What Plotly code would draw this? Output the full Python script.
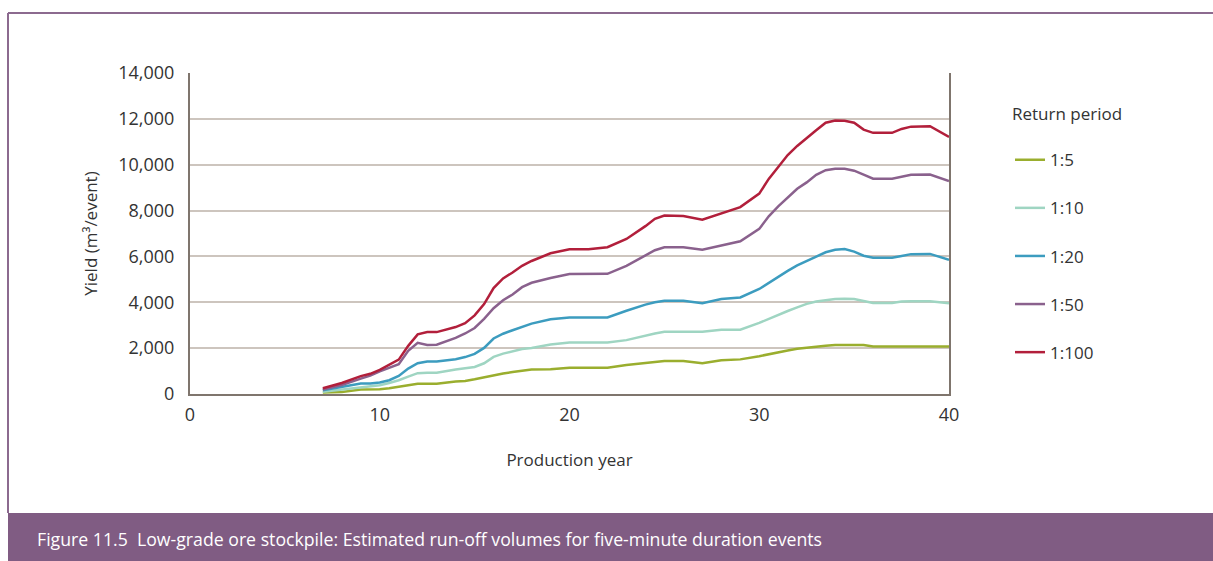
import plotly.graph_objects as go

# Production year (shared x values)
years = [7, 8, 9, 9.5, 10, 10.5, 11, 11.5, 12, 12.5, 13, 14, 14.5, 15, 15.5, 16, 16.5, 17, 17.5, 18,
         19, 20, 21, 22, 23, 24, 24.5, 25, 26, 27, 28, 29, 30, 30.5, 31, 31.5, 32, 32.5, 33, 33.5,
         34, 34.5, 35, 35.5, 36, 37, 37.5, 38, 39, 40]

# Yield (m3/event) per return period
rp_5 = [60, 90, 200, 200, 210, 250, 300, 380, 450, 450, 450, 540, 570, 640, 730, 810, 890, 960, 1010, 1070,
        1080, 1150, 1150, 1150, 1260, 1360, 1410, 1440, 1440, 1340, 1470, 1510, 1650, 1740, 1820, 1900, 1970, 2030, 2060, 2100,
        2140, 2140, 2140, 2140, 2070, 2070, 2070, 2070, 2070, 2070]
rp_10 = [100, 200, 300, 330, 380, 480, 600, 760, 910, 930, 930, 1070, 1120, 1180, 1340, 1620, 1760, 1870, 1960, 2010,
         2160, 2250, 2250, 2250, 2350, 2550, 2640, 2710, 2710, 2720, 2800, 2800, 3100, 3285, 3470, 3620, 3775, 3930, 4030, 4100,
         4140, 4150, 4140, 4060, 3970, 3970, 4030, 4040, 4040, 3960]
rp_20 = [160, 320, 460, 460, 500, 600, 790, 1110, 1340, 1420, 1420, 1520, 1610, 1750, 2010, 2420, 2630, 2780, 2930, 3070,
         3260, 3340, 3340, 3340, 3630, 3900, 4000, 4070, 4070, 3960, 4140, 4210, 4580, 4850, 5110, 5370, 5610, 5810, 6010, 6180,
         6290, 6320, 6210, 6030, 5940, 5940, 6020, 6100, 6110, 5850]
rp_50 = [200, 395, 670, 800, 990, 1140, 1300, 1880, 2230, 2140, 2150, 2450, 2640, 2880, 3280, 3740, 4090, 4340, 4660, 4850,
         5060, 5230, 5240, 5240, 5590, 6030, 6270, 6400, 6400, 6290, 6490, 6660, 7200, 7750, 8180, 8570, 8950, 9230, 9560, 9760,
         9820, 9820, 9740, 9570, 9390, 9390, 9470, 9560, 9570, 9290]
rp_100 = [250, 480, 780, 880, 1050, 1270, 1500, 2100, 2600, 2700, 2700, 2920, 3090, 3430, 3920, 4620, 5040, 5300, 5590, 5800,
          6140, 6310, 6310, 6400, 6760, 7320, 7640, 7780, 7760, 7600, 7890, 8150, 8740, 9380, 9900, 10420, 10820, 11140, 11500, 11830,
          11930, 11920, 11830, 11530, 11390, 11390, 11560, 11660, 11680, 11210]

series_names = ["1:5", "1:10", "1:20", "1:50", "1:100"]
series_values = [rp_5, rp_10, rp_20, rp_50, rp_100]
series_colors = ["#9aae2e", "#9fd5c2", "#3c9cbf", "#8a618d", "#b21f3b"]

y_ticks = [0, 2000, 4000, 6000, 8000, 10000, 12000, 14000]
y_tick_text = ["0", "2,000", "4,000", "6,000", "8,000", "10,000", "12,000", "14,000"]
x_ticks = [0, 10, 20, 30, 40]

caption = "Figure 11.5  Low-grade ore stockpile: Estimated run-off volumes for five-minute duration events"

FONT = "Open Sans, Noto Sans, sans-serif"
TXT = "#333333"
FRAME = "#8c6a8f"

fig = go.Figure()
for name, vals, col in zip(series_names, series_values, series_colors):
    fig.add_trace(go.Scatter(x=years, y=vals, mode="lines", name=name, legendgroup=name,
                             line=dict(color=col, width=2.5)))

W, H = 1213, 561
L, R, T, B = 190, 949, 73, 394
pw, ph = R - L, B - T

def px(X):
    return (X - L) / pw

def py(Y):
    return (B - Y) / ph

shapes = [
    # purple frame
    dict(type="line", xref="paper", yref="paper", x0=px(8), x1=px(8), y0=py(13), y1=py(513),
         line=dict(color=FRAME, width=2)),
    dict(type="line", xref="paper", yref="paper", x0=px(8), x1=px(1213), y0=py(13), y1=py(13),
         line=dict(color=FRAME, width=2)),
    # caption bar
    dict(type="rect", xref="paper", yref="paper", x0=px(8), x1=px(1213), y0=py(561), y1=py(513),
         fillcolor="#805c83", line=dict(width=0), layer="below"),
]

fig.update_layout(
    width=W, height=H,
    margin=dict(l=L, r=W - R, t=T, b=H - B, pad=0),
    paper_bgcolor="white", plot_bgcolor="white",
    font=dict(family=FONT, size=18, color=TXT),
    showlegend=True,
    legend=dict(
        x=px(1010), xanchor="left", y=py(98), yanchor="top",
        title=dict(text="Return period<br>\u00a0", font=dict(size=17, color=TXT)),
        font=dict(size=17, color=TXT),
        tracegroupgap=23, traceorder="grouped", bgcolor="rgba(0,0,0,0)",
    ),
    shapes=shapes,
    annotations=[
        dict(text=caption, xref="paper", yref="paper", x=px(35), y=py(539), xanchor="left", yanchor="middle",
             showarrow=False, font=dict(family=FONT, size=17.7, color="white")),
    ],
)

fig.update_xaxes(
    range=[0, 40], tickvals=x_ticks, ticks="", showgrid=False, zeroline=False,
    showline=True, linecolor="#7f756d", linewidth=2, mirror=False,
    ticklabelstandoff=3,
    title=dict(text="Production year", standoff=30, font=dict(size=17, color=TXT)),
)
fig.update_yaxes(
    range=[0, 14000], tickvals=y_ticks, ticktext=y_tick_text, ticks="",
    showgrid=True, gridcolor="#cdc5be", gridwidth=2, zeroline=False,
    showline=True, linecolor="#7f756d", linewidth=2, mirror=True,
    ticklabelstandoff=10,
    title=dict(text="Yield (m³/event)", standoff=16, font=dict(size=17, color=TXT)),
)

fig.write_html("out.html", config={"displayModeBar": False},
               post_script="document.body.style.margin='0';")
